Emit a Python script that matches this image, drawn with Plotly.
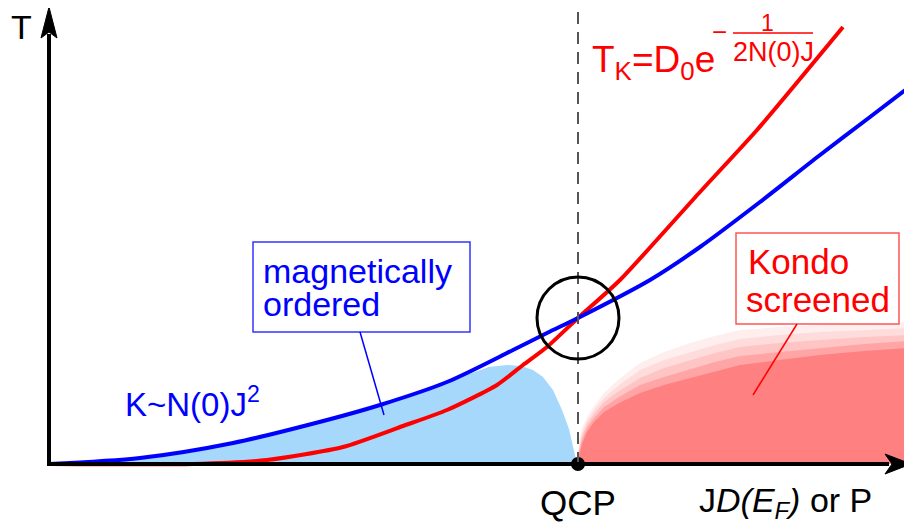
import plotly.graph_objects as go

# coupling (x) and temperature (y) in arbitrary units, origin at the axes corner
blue_x = [0, 91, 184, 278, 331, 398, 464, 498, 531, 601, 651, 711, 771, 821, 863]
blue_y = [0, 6, 21, 44, 59, 82, 114, 131, 147, 184, 217, 262, 309, 347, 379]

red_x = [0, 144, 218, 294, 354, 398, 448, 474, 498, 529, 571, 651, 708, 794]
red_y = [0, 0, 4, 17, 38, 54, 79, 99, 117, 146, 184, 272, 334, 437]

# magnetically ordered dome (upper edge)
mag_x = [0, 50, 91, 140, 184, 230, 278, 331, 370, 398, 420, 440, 458, 472, 484,
         494, 504, 513, 520, 525, 528]
mag_y = [0, 2, 5, 11, 20, 30, 43, 57, 70, 80, 90, 97, 99, 98, 94,
         87, 74, 54, 35, 15, 0]

# Kondo screened region, layered from outer (faint) to inner (solid)
kondo_x = [529, 530, 533, 538, 545, 555, 570, 591, 615, 641, 666, 691, 730, 771, 815, 858]
kondo_layers = [
    [0, 22, 36, 47, 58, 71, 85, 101, 112, 121, 128, 134, 137, 139, 141, 142],
    [0, 18, 32, 43, 54, 66, 79, 94, 104, 112, 119, 125, 129, 132, 134, 136],
    [0, 15, 28, 40, 50, 62, 73, 86, 96, 104, 111, 117, 121, 124, 127, 129],
    [0, 11, 24, 36, 46, 57, 67, 79, 87, 95, 102, 108, 112, 116, 120, 123],
    [0, 8, 20, 32, 42, 52, 61, 71, 79, 86, 93, 99, 104, 109, 113, 116],
]
kondo_colors = ['rgb(255,238,238)', 'rgb(255,220,220)', 'rgb(255,196,196)',
                'rgb(255,165,165)', 'rgb(255,128,128)']

qcp = 529
FONT = "Liberation Sans, Arial, sans-serif"

fig = go.Figure()

fig.add_trace(go.Scatter(x=mag_x, y=mag_y, mode='lines', fill='tozeroy',
                         fillcolor='rgb(165,216,250)', line=dict(width=0),
                         hoverinfo='skip'))

for ys, col in zip(kondo_layers, kondo_colors):
    fig.add_trace(go.Scatter(x=kondo_x, y=ys, mode='lines', fill='tozeroy', fillcolor=col,
                             line=dict(width=0), hoverinfo='skip'))

fig.add_trace(go.Scatter(x=red_x, y=red_y, mode='lines',
                         line=dict(color='#ff0000', width=4, shape='spline', smoothing=0.6)))
fig.add_trace(go.Scatter(x=blue_x, y=blue_y, mode='lines',
                         line=dict(color='#0000ff', width=4, shape='spline', smoothing=0.8)))

shapes = [
    # dashed QCP line
    dict(type='line', x0=qcp, x1=qcp, y0=0, y1=460, layer='above',
         line=dict(color='#555555', width=2, dash='12px,8px')),
    # axes
    dict(type='line', x0=0, x1=0, y0=-2, y1=430, line=dict(color='black', width=4)),
    dict(type='line', x0=-2, x1=840, y0=0, y1=0, line=dict(color='black', width=4)),
    dict(type='path', path='M 0,457 L -8,426 L 0,432 L 8,426 Z',
         fillcolor='black', line=dict(color='black', width=1)),
    dict(type='path', path='M 862,0 L 836,10 L 843,0 L 836,-10 Z',
         fillcolor='black', line=dict(color='black', width=1)),
    # circle at the crossing
    dict(type='circle', x0=qcp - 41, x1=qcp + 41, y0=146 - 41, y1=146 + 41,
         line=dict(color='black', width=3)),
    # label boxes
    dict(type='rect', x0=204, x1=421, y0=132, y1=222, fillcolor='white',
         line=dict(color='#3333ff', width=1.5)),
    dict(type='rect', x0=687, x1=850, y0=140, y1=231, fillcolor='white',
         line=dict(color='#ff5555', width=1.5)),
    # pointer lines
    dict(type='line', x0=311, x1=335, y0=132, y1=49, line=dict(color='#0000ff', width=1.5)),
    dict(type='line', x0=748, x1=704, y0=140, y1=69, line=dict(color='#ff0000', width=1.5)),
    # fraction bar
    dict(type='line', x0=684, x1=764, y0=431, y1=431, line=dict(color='#ff0000', width=1.5)),
]

fig.add_trace(go.Scatter(x=[qcp], y=[0], mode='markers',
                         marker=dict(color='black', size=14), hoverinfo='skip'))


def txt(x, y, text, color='black', size=32, xanchor='center'):
    return dict(x=x, y=y, text=text, showarrow=False, xanchor=xanchor, yanchor='middle',
                font=dict(family=FONT, size=size, color=color))


annotations = [
    txt(-28, 437, 'T', size=34),
    txt(qcp, -38, 'QCP', size=35),
    txt(736, -38, 'J<i>D(E<sub>F</sub>)</i> or P', size=34),
    txt(74, 62, 'K~N(0)J<sup>2</sup>', color='#0000ff', size=33, xanchor='left'),
    txt(212, 193, 'magnetically', color='#0000ff', size=34, xanchor='left'),
    txt(212, 160, 'ordered', color='#0000ff', size=34, xanchor='left'),
    txt(697, 203, 'Kondo', color='#ff0000', size=35, xanchor='left'),
    txt(695, 165, 'screened', color='#ff0000', size=35, xanchor='left'),
    txt(541, 402, 'T<sub>K</sub>=D<sub>0</sub>e', color='#ff0000', size=37, xanchor='left'),
    txt(670, 432, '\u2212', color='#ff0000', size=26),
    txt(718, 441, '1', color='#ff0000', size=23),
    txt(724, 412, '2N(0)J', color='#ff0000', size=27),
]

fig.update_layout(
    width=904, height=518,
    margin=dict(l=0, r=0, t=0, b=0),
    paper_bgcolor='white', plot_bgcolor='white',
    showlegend=False,
    xaxis=dict(range=[-41, 863], visible=False, fixedrange=True),
    yaxis=dict(range=[-62, 456], visible=False, fixedrange=True),
    shapes=shapes,
    annotations=annotations,
)

fig.write_html("out.html")
